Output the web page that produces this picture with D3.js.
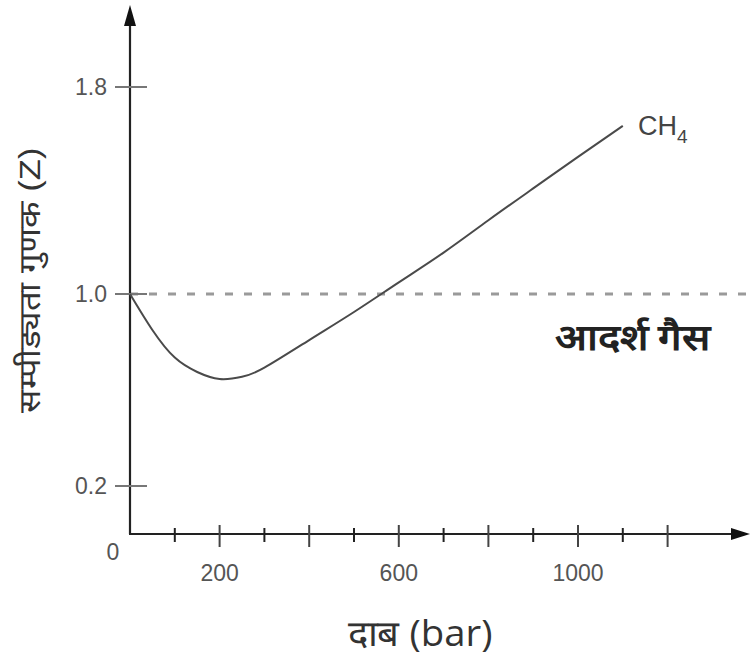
<!DOCTYPE html>
<html>
<head>
<meta charset="utf-8">
<script src="https://cdn.jsdelivr.net/npm/d3@7"></script>
<style>
  body { margin: 0; background: #fff; }
  svg { display: block; }
</style>
</head>
<body>
<svg width="750" height="659"></svg>
<script>
// pressure (bar) and compressibility factor Z for CH4
const pressure = [0, 50, 100, 150, 200, 250, 300, 400, 500, 600, 700, 800, 900, 1000, 1100];
const zCH4 = [1.0, 0.85, 0.735, 0.675, 0.646, 0.655, 0.693, 0.808, 0.925, 1.045, 1.16, 1.285, 1.408, 1.53, 1.65];

const xMajor = [200, 400, 600, 800, 1000, 1200];
const xMinor = [100, 300, 500, 700, 900, 1100];
const xLabels = [200, 600, 1000];
const yTicks = [0.2, 1.0, 1.8];
const idealZ = 1.0;

const svg = d3.select("svg");
const font = "Liberation Sans, Arial, sans-serif";

// x is linear, y in the sketch is not quite, so the scale goes through the tick marks
const x = d3.scaleLinear().domain([0, 1200]).range([130, 667.6]);
const y = d3.scaleLinear().domain([0, 1.0, 1.8]).range([534, 294, 87]);

// ideal gas dashed line
svg.append("line")
   .attr("x1", x(0)).attr("x2", 750)
   .attr("y1", y(idealZ)).attr("y2", y(idealZ))
   .attr("stroke", "#9a9a9a")
   .attr("stroke-width", 3)
   .attr("stroke-dasharray", "8,11");

// axes
svg.append("line")
   .attr("x1", x(0)).attr("x2", x(0))
   .attr("y1", y(0)).attr("y2", 20)
   .attr("stroke", "#222").attr("stroke-width", 2.2);
svg.append("line")
   .attr("x1", x(0) - 1).attr("x2", 736)
   .attr("y1", y(0)).attr("y2", y(0))
   .attr("stroke", "#222").attr("stroke-width", 2.2);

svg.append("path")
   .attr("d", `M${x(0)},5 L${x(0) - 6},26 L${x(0) + 6},26 Z`)
   .attr("fill", "#111");
svg.append("path")
   .attr("d", `M750,${y(0)} L731,${y(0) - 6} L731,${y(0) + 6} Z`)
   .attr("fill", "#111");

// x ticks
svg.selectAll(".xmaj")
   .data(xMajor)
   .enter()
   .append("line")
   .attr("class", "xmaj")
   .attr("x1", d => x(d)).attr("x2", d => x(d))
   .attr("y1", y(0) - 9).attr("y2", y(0) + 13)
   .attr("stroke", "#444").attr("stroke-width", 2);

svg.selectAll(".xmin")
   .data(xMinor)
   .enter()
   .append("line")
   .attr("class", "xmin")
   .attr("x1", d => x(d)).attr("x2", d => x(d))
   .attr("y1", y(0) - 6).attr("y2", y(0) + 8)
   .attr("stroke", "#222").attr("stroke-width", 2);

svg.selectAll(".xlab")
   .data(xLabels)
   .enter()
   .append("text")
   .attr("class", "xlab")
   .attr("x", d => x(d))
   .attr("y", 581)
   .attr("text-anchor", "middle")
   .attr("font-family", font)
   .attr("font-size", 23)
   .attr("fill", "#555")
   .text(d => d);

// y ticks
svg.selectAll(".ytick")
   .data(yTicks)
   .enter()
   .append("line")
   .attr("class", "ytick")
   .attr("x1", x(0) - 15).attr("x2", x(0) + 17)
   .attr("y1", d => y(d)).attr("y2", d => y(d))
   .attr("stroke", "#777").attr("stroke-width", 2);

svg.selectAll(".ylab")
   .data(yTicks)
   .enter()
   .append("text")
   .attr("class", "ylab")
   .attr("x", 107)
   .attr("y", d => y(d))
   .attr("dy", "0.35em")
   .attr("text-anchor", "end")
   .attr("font-family", font)
   .attr("font-size", 23)
   .attr("fill", "#555")
   .text(d => d.toFixed(1));

svg.append("text")
   .attr("x", 113).attr("y", 552)
   .attr("dy", "0.35em")
   .attr("text-anchor", "middle")
   .attr("font-family", font)
   .attr("font-size", 23)
   .attr("fill", "#555")
   .text("0");

// CH4 curve
const line = d3.line()
   .x((d, i) => x(pressure[i]))
   .y(d => y(d))
   .curve(d3.curveNatural);

svg.append("path")
   .datum(zCH4)
   .attr("d", line)
   .attr("fill", "none")
   .attr("stroke", "#4a4a4a")
   .attr("stroke-width", 2);

// labels
const ch4 = svg.append("text")
   .attr("x", 638).attr("y", 135)
   .attr("font-family", font)
   .attr("font-size", 27)
   .attr("fill", "#444");
ch4.append("tspan").text("CH");
ch4.append("tspan").attr("dy", 8).attr("font-size", 19).text("4");

svg.append("text")
   .attr("x", 632).attr("y", 350)
   .attr("text-anchor", "middle")
   .attr("font-family", "serif")
   .attr("font-weight", "bold")
   .attr("font-size", 36)
   .attr("textLength", 155)
   .attr("lengthAdjust", "spacingAndGlyphs")
   .attr("fill", "#222")
   .text("आदर्श गैस");

svg.append("text")
   .attr("transform", "translate(40,280) rotate(-90)")
   .attr("text-anchor", "middle")
   .attr("font-family", "sans-serif")
   .attr("font-size", 30)
   .attr("textLength", 265)
   .attr("lengthAdjust", "spacingAndGlyphs")
   .attr("fill", "#333")
   .text("सम्पीड्यता गुणक (Z)");

svg.append("text")
   .attr("x", 420).attr("y", 646)
   .attr("text-anchor", "middle")
   .attr("font-family", "Open Sans, sans-serif")
   .attr("font-size", 36)
   .attr("textLength", 145)
   .attr("lengthAdjust", "spacingAndGlyphs")
   .attr("fill", "#333")
   .text("दाब (bar)");
</script>
</body>
</html>
